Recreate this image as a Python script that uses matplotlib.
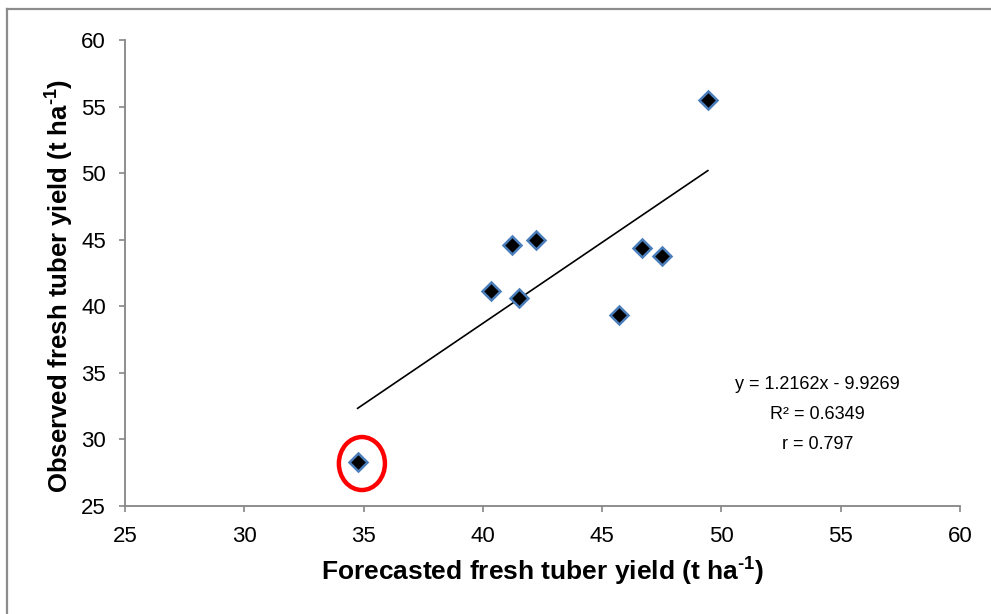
import matplotlib
matplotlib.use("Agg")
import matplotlib.pyplot as plt
from matplotlib.patches import Ellipse
from matplotlib.lines import Line2D
import numpy as np

plt.rcParams['font.family'] = ['Liberation Sans', 'DejaVu Sans']
plt.rcParams['mathtext.fontset'] = 'custom'
plt.rcParams['mathtext.rm'] = 'Liberation Sans:bold'
plt.rcParams['mathtext.bf'] = 'Liberation Sans:bold'

# Data
forecasted = [49.43, 41.22, 42.23, 40.33, 41.51, 45.72, 46.69, 47.52, 34.75]
observed = [55.5, 44.63, 45.0, 41.15, 40.65, 39.35, 44.41, 43.78, 28.33]
slope, intercept = 1.2162, -9.9269
r2_text = "R\u00b2 = 0.6349"
r_text = "r = 0.797"
eq_text = "y = 1.2162x - 9.9269"
ticks = [25, 30, 35, 40, 45, 50, 55, 60]
outlier = (34.93, 28.19)

fig = plt.figure(figsize=(9.91, 6.14), dpi=100)
ax = fig.add_axes([125/991, 1-506/614, (960-125)/991, (506-40)/614])

gray = '#868686'

# trend line
xl = np.array([min(forecasted), max(forecasted)])
ax.plot(xl, slope*xl + intercept, color='black', lw=1.2, zorder=2)

ax.plot(forecasted, observed, linestyle='none', marker='D', markersize=9.5,
        markerfacecolor='black', markeredgecolor='#4a7ebb', markeredgewidth=1.8, zorder=3)

ax.add_patch(Ellipse(outlier, 1.93, 3.98, fill=False, edgecolor='#ff0000', lw=3.2, zorder=4))

ax.set_xlim(25, 60)
ax.set_ylim(25, 60)
ax.set_xticks(ticks)
ax.set_yticks(ticks)
ax.set_xticklabels([str(t) for t in ticks])
ax.set_yticklabels([str(t) for t in ticks])

for s in ['top', 'right']:
    ax.spines[s].set_visible(False)
for s in ['left', 'bottom']:
    ax.spines[s].set_color(gray)
    ax.spines[s].set_linewidth(1.3)
ax.tick_params(axis='both', direction='out', length=4.3, width=1.2, color=gray,
               labelsize=16, labelcolor='black')
ax.tick_params(axis='x', pad=10)
ax.tick_params(axis='y', pad=9.5)

ax.set_xlabel(r'Forecasted fresh tuber yield (t ha$^{\text{-1}}$)', fontsize=19,
              fontweight='bold', labelpad=5)
ax.set_ylabel(r'Observed fresh tuber yield (t ha$^{\text{-1}}$)', fontsize=18.5,
              fontweight='bold')
ax.yaxis.set_label_coords(-0.06, 0.472)

ax.text(54.04, 34.1, eq_text, ha='center', va='center', fontsize=13)
ax.text(54.04, 31.85, r2_text, ha='center', va='center', fontsize=13)
ax.text(54.04, 29.6, r_text, ha='center', va='center', fontsize=13)

# outer frame (left and top edges)
fig.add_artist(Line2D([7/991, 7/991], [0, 1-9/614], transform=fig.transFigure, color='#8c8c8c', lw=1.6))
fig.add_artist(Line2D([7/991, 1], [1-9/614, 1-9/614], transform=fig.transFigure, color='#8c8c8c', lw=1.6))

fig.savefig('out.png', dpi=100)
